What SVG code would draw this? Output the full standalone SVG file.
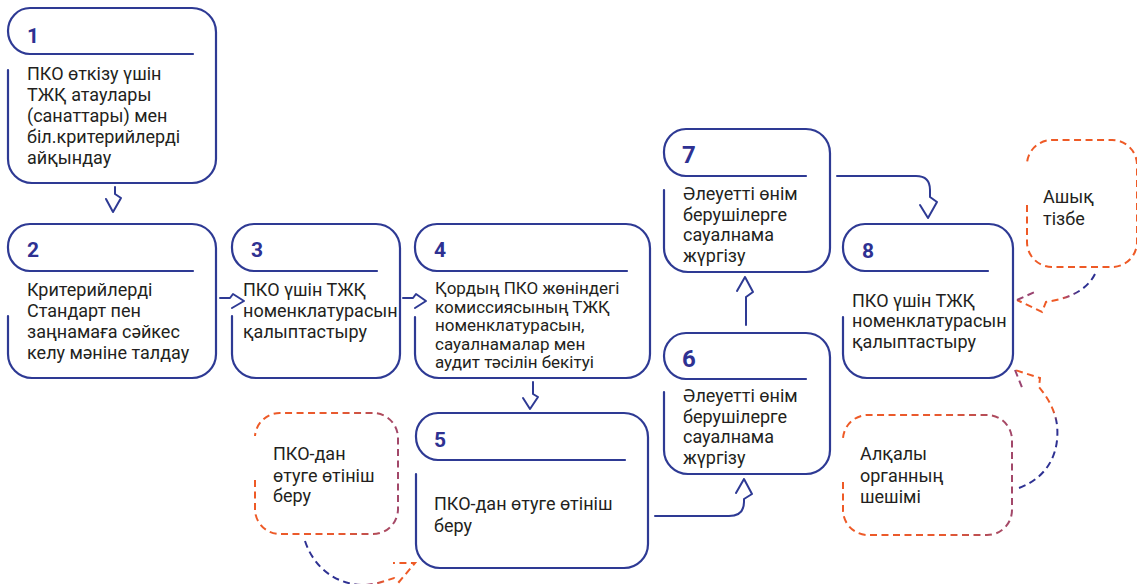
<svg xmlns="http://www.w3.org/2000/svg" width="1137" height="584" viewBox="0 0 1137 584">
<style>
.nd{fill:none;stroke:#2e3a94;stroke-width:2.2;stroke-linecap:round;stroke-linejoin:round}
.num{font-family:Roboto,"Liberation Sans",sans-serif;font-weight:700;font-size:21px;fill:#2e3192}
.big{font-size:24px}
.tx{font-family:Roboto,"Liberation Sans",sans-serif;font-size:18px;fill:#231f20}
.sm{font-size:17px}
.cn{fill:none;stroke:#2e3a94;stroke-width:2;stroke-linejoin:round;stroke-linecap:round}
.db{fill:none;stroke-width:2;stroke-dasharray:7 4.5}
</style>
<defs>
<linearGradient id="gbox" x1="0" y1="0" x2="1" y2="0">
<stop offset="0" stop-color="#ee5a26"/><stop offset="0.6" stop-color="#e85a30"/><stop offset="0.85" stop-color="#b44c58"/><stop offset="1" stop-color="#a2486a"/>
</linearGradient>
<linearGradient id="ga" gradientUnits="userSpaceOnUse" x1="305" y1="560" x2="400" y2="570">
<stop offset="0" stop-color="#2e3192"/><stop offset="0.5" stop-color="#2e3192"/><stop offset="0.72" stop-color="#a8456a"/><stop offset="0.85" stop-color="#ee5a26"/><stop offset="1" stop-color="#ee5a26"/>
</linearGradient>
<linearGradient id="gb" gradientUnits="userSpaceOnUse" x1="1095" y1="274" x2="1017" y2="300">
<stop offset="0" stop-color="#2e3192"/><stop offset="0.25" stop-color="#2e3192"/><stop offset="0.4" stop-color="#a8456a"/><stop offset="0.5" stop-color="#ee5a26"/><stop offset="1" stop-color="#ee5a26"/>
</linearGradient>
<linearGradient id="gc" gradientUnits="userSpaceOnUse" x1="1040" y1="488" x2="1030" y2="370">
<stop offset="0" stop-color="#2e3192"/><stop offset="0.55" stop-color="#2e3192"/><stop offset="0.64" stop-color="#ee5a26"/><stop offset="1" stop-color="#ee5a26"/>
</linearGradient>
</defs>

<g id="connectors">
<path class="cn" d="M115,187 V194 L121,198 L113,212 L106,199"/>
<path class="cn" d="M220,298 H230 L233,294 L244,301 L232,308"/>
<path class="cn" d="M403,298 H413 L416,294 L426,301 L415,308"/>
<path class="cn" d="M533,382 V394 L538,397 L530,409 L523,398"/>
<path class="cn" d="M655,516 H729 Q744,516 744,502 V499 L752,494 L744,479 L736,493"/>
<path class="cn" d="M746,325 V297 L753,292 L745,277 L737,291"/>
<path class="cn" d="M837,176 H916 Q930,176 930,190 V197 L937,202 L928,218 L920,205"/>
<path class="db" stroke="url(#ga)" d="M305,541 C314,568 336,584 362,585 C375,585 385,581 394,578 L399,582 L415,563 L393,563"/>
<path class="db" stroke="url(#gb)" d="M1095,274 C1086,292 1066,299 1046,302 L1042,312 L1017,300"/>
<path class="db" stroke="#9a4470" d="M1017,300 L1037,291"/>
<path class="db" stroke="url(#gc)" d="M1019,488 C1046,478 1060,455 1057,425 C1055,410 1048,398 1039,387 L1040,378 L1015,370"/>
<path class="db" stroke="#9a4470" d="M1015,370 L1023,390"/>
</g>

<g id="node1">
<path class="nd" d="M193,54 H30 A22,23 0 0 1 8,31 A22,23 0 0 1 30,8 H192 A24,24 0 0 1 216,32 V159 A24,24 0 0 1 192,183 H32 A24,24 0 0 1 8,159 V70"/>
<text class="num" x="27" y="43">1</text>
<text class="tx"><tspan x="27" y="80">ПКО өткізу үшін</tspan><tspan x="27" y="101">ТЖҚ атаулары</tspan><tspan x="27" y="122">(санаттары) мен</tspan><tspan x="27" y="143">біл.критерийлерді</tspan><tspan x="27" y="164">айқындау</tspan></text>
</g>

<g id="node2">
<path class="nd" d="M193,271 H30 A22,23 0 0 1 8,248 A22,23 0 0 1 30,224 H192 A24,24 0 0 1 216,248 V354 A24,24 0 0 1 192,378 H32 A24,24 0 0 1 8,354 V316"/>
<text class="num" x="27" y="257">2</text>
<text class="tx"><tspan x="27" y="296">Критерийлерді</tspan><tspan x="27" y="317">Стандарт пен</tspan><tspan x="27" y="338">заңнамаға сәйкес</tspan><tspan x="27" y="359">келу мәніне талдау</tspan></text>
</g>

<g id="node3">
<path class="nd" d="M377,271 H254 A22,23 0 0 1 232,248 A22,23 0 0 1 254,224 H376 A24,24 0 0 1 400,248 V354 A24,24 0 0 1 376,378 H256 A24,24 0 0 1 232,354 V316"/>
<text class="num" x="251" y="257">3</text>
<text class="tx"><tspan x="243" y="296">ПКО үшін ТЖҚ</tspan><tspan x="243" y="317">номенклатурасын</tspan><tspan x="243" y="338">қалыптастыру</tspan></text>
</g>

<g id="node4">
<path class="nd" d="M627,271 H437 A22,23 0 0 1 415,248 A22,23 0 0 1 437,224 H626 A24,24 0 0 1 650,248 V354 A24,24 0 0 1 626,378 H439 A24,24 0 0 1 415,354 V317"/>
<text class="num" x="434" y="257">4</text>
<text class="tx sm"><tspan x="435" y="294">Қордың ПКО жөніндегі</tspan><tspan x="435" y="312.5">комиссиясының ТЖҚ</tspan><tspan x="435" y="331">номенклатурасын,</tspan><tspan x="435" y="349.5">сауалнамалар мен</tspan><tspan x="435" y="368">аудит тәсілін бекітуі</tspan></text>
</g>

<g id="node5">
<path class="nd" d="M625,460 H438 A22,23 0 0 1 416,437 A22,23 0 0 1 438,413 H624 A24,24 0 0 1 648,437 V544 A24,24 0 0 1 624,568 H440 A24,24 0 0 1 416,544 V474"/>
<text class="num" x="434" y="447">5</text>
<text class="tx"><tspan x="434" y="510">ПКО-дан өтуге өтініш</tspan><tspan x="434" y="532">беру</tspan></text>
</g>

<g id="node6">
<path class="nd" d="M806,379 H686 A22,23 0 0 1 664,356 A22,23 0 0 1 686,333 H806 A24,24 0 0 1 830,357 V450 A24,24 0 0 1 806,474 H688 A24,24 0 0 1 664,450 V392"/>
<text class="num big" x="682" y="367">6</text>
<text class="tx"><tspan x="683" y="402">Әлеуетті өнім</tspan><tspan x="683" y="423">берушілерге</tspan><tspan x="683" y="443">сауалнама</tspan><tspan x="683" y="464">жүргізу</tspan></text>
</g>

<g id="node7">
<path class="nd" d="M806,176 H686 A22,23 0 0 1 664,153 A22,23 0 0 1 686,129 H806 A24,24 0 0 1 830,153 V248 A24,24 0 0 1 806,272 H688 A24,24 0 0 1 664,248 V190"/>
<text class="num big" x="682" y="163">7</text>
<text class="tx"><tspan x="683" y="200">Әлеуетті өнім</tspan><tspan x="683" y="221">берушілерге</tspan><tspan x="683" y="241">сауалнама</tspan><tspan x="683" y="262">жүргізу</tspan></text>
</g>

<g id="node8">
<path class="nd" d="M988,271 H865 A22,23 0 0 1 843,248 A22,23 0 0 1 865,224 H989 A24,24 0 0 1 1013,248 V354 A24,24 0 0 1 989,378 H867 A24,24 0 0 1 843,354 V317"/>
<text class="num" x="862" y="258">8</text>
<text class="tx"><tspan x="852" y="307">ПКО үшін ТЖҚ</tspan><tspan x="852" y="327">номенклатурасын</tspan><tspan x="852" y="348">қалыптастыру</tspan></text>
</g>

<g id="source1">
<path class="db" stroke="url(#gbox)" d="M255,480 V509 A25,25 0 0 0 280,534 H373 A25,25 0 0 0 398,509 V438 A25,25 0 0 0 373,413 H280 A25,25 0 0 0 255,436"/>
<text class="tx"><tspan x="273" y="460">ПКО-дан</tspan><tspan x="273" y="482">өтуге өтініш</tspan><tspan x="273" y="502">беру</tspan></text>
</g>

<g id="source2">
<path class="db" stroke="#ee5a26" d="M1027,205 V242 A25,25 0 0 0 1052,267 H1112 A25,25 0 0 0 1137,242 V165 A25,25 0 0 0 1112,140 H1052 A25,25 0 0 0 1027,163"/>
<text class="tx"><tspan x="1043" y="203">Ашық</tspan><tspan x="1043" y="225">тізбе</tspan></text>
</g>

<g id="source3">
<path class="db" stroke="url(#gbox)" d="M843,482 V510 A25,25 0 0 0 868,535 H987 A25,25 0 0 0 1012,510 V440 A25,25 0 0 0 987,415 H868 A25,25 0 0 0 843,438"/>
<text class="tx"><tspan x="860" y="460">Алқалы</tspan><tspan x="860" y="482">органның</tspan><tspan x="860" y="503">шешімі</tspan></text>
</g>
</svg>
